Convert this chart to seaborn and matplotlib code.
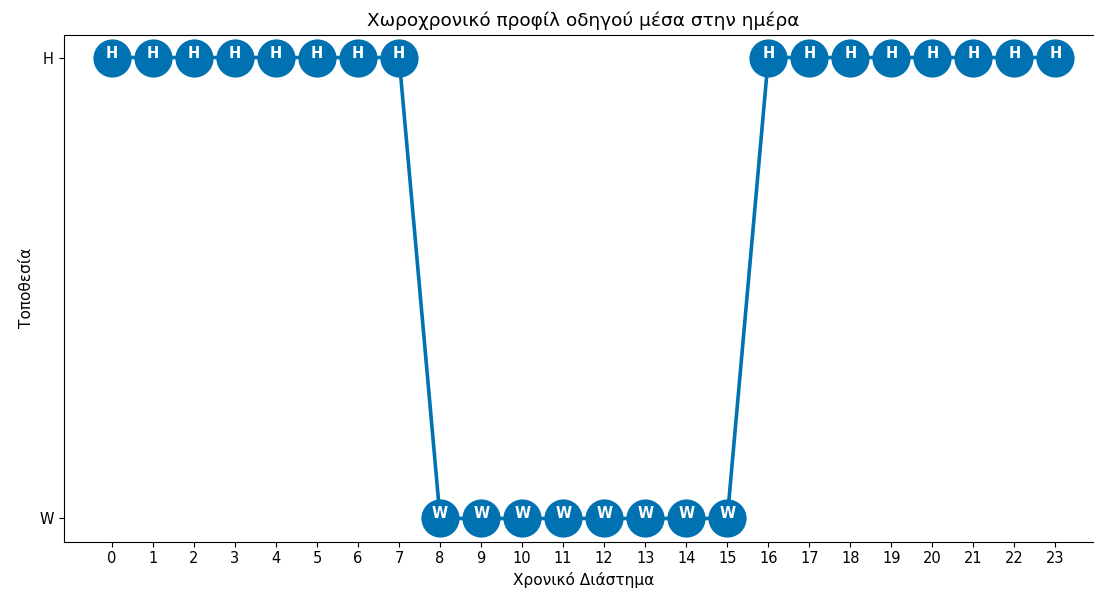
import matplotlib
matplotlib.use("Agg")
import matplotlib.pyplot as plt
import seaborn as sns
import pandas as pd

# Hourly location of the driver over one day
hours = list(range(24))
locations = ["H"] * 8 + ["W"] * 8 + ["H"] * 8
location_levels = ["W", "H"]

title = "Χωροχρονικό προφίλ οδηγού μέσα στην ημέρα"
x_label = "Χρονικό Διάστημα"
y_label = "Τοποθεσία"

df = pd.DataFrame({"hour": hours, "location": locations})
df["level"] = df["location"].map({loc: i for i, loc in enumerate(location_levels)})

color = "#0072B2"
fs = 11.1

fig = plt.figure(figsize=(10.94, 5.94), dpi=100)
ax = fig.add_axes([63.5 / 1094, 1 - 541.5 / 594, 1040.4 / 1094, 507 / 594])

sns.lineplot(data=df, x="hour", y="level", ax=ax, color=color, linewidth=2.6,
             marker="o", markersize=27.5, markeredgewidth=0, estimator=None)

for h, loc, lv in zip(df["hour"], df["location"], df["level"]):
    ax.text(h, lv, loc, ha="center", va="baseline", color="white",
            fontsize=10.5, fontweight="bold")

ax.set_xticks(hours)
ax.set_xticklabels([str(h) for h in hours])
ax.set_yticks(range(len(location_levels)))
ax.set_yticklabels(location_levels)
ax.tick_params(labelsize=10.5)
ax.set_xlim(-1.18, 24.18)
ax.set_ylim(-0.05, 1.05)

ax.set_title(title, fontsize=13.3)
ax.set_xlabel(x_label, fontsize=fs)
ax.set_ylabel(y_label, fontsize=fs)

fig.savefig("out.png", dpi=100)
